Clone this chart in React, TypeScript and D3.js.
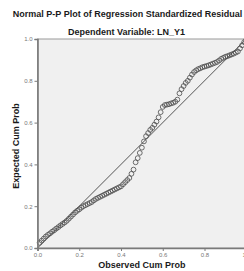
import React, { useEffect, useRef } from 'react';
import * as d3 from 'd3';

const title = 'Normal P-P Plot of Regression Standardized Residual';
const subtitle = 'Dependent Variable: LN_Y1';
const xTitle = 'Observed Cum Prob';
const yTitle = 'Expected Cum Prob';
const ticks = [0, 0.2, 0.4, 0.6, 0.8, 1.0];

const observed = [
  0.01, 0.02, 0.03, 0.04, 0.05, 0.06, 0.07, 0.08, 0.09, 0.10,
  0.11, 0.12, 0.13, 0.14, 0.15, 0.16, 0.17, 0.18, 0.19, 0.20,
  0.21, 0.22, 0.23, 0.24, 0.25, 0.26, 0.27, 0.28, 0.29, 0.30,
  0.31, 0.32, 0.33, 0.34, 0.35, 0.36, 0.37, 0.38, 0.39, 0.40,
  0.41, 0.42, 0.43, 0.44, 0.45, 0.46, 0.47, 0.48, 0.49, 0.50,
  0.51, 0.52, 0.53, 0.54, 0.55, 0.56, 0.57, 0.58, 0.59, 0.60,
  0.61, 0.62, 0.63, 0.64, 0.65, 0.66, 0.67, 0.68, 0.69, 0.70,
  0.71, 0.72, 0.73, 0.74, 0.75, 0.76, 0.77, 0.78, 0.79, 0.80,
  0.81, 0.82, 0.83, 0.84, 0.85, 0.86, 0.87, 0.88, 0.89, 0.90,
  0.91, 0.92, 0.93, 0.94, 0.95, 0.96, 0.97, 0.98, 0.99, 1.00
];

const expected = [
  0.025, 0.035, 0.045, 0.055, 0.063, 0.07, 0.078, 0.085, 0.093, 0.10,
  0.108, 0.115, 0.122, 0.13, 0.14, 0.15, 0.16, 0.17, 0.178, 0.185,
  0.193, 0.20, 0.205, 0.21, 0.215, 0.22, 0.228, 0.235, 0.24, 0.245,
  0.25, 0.255, 0.26, 0.265, 0.27, 0.275, 0.28, 0.285, 0.29, 0.295,
  0.305, 0.315, 0.325, 0.335, 0.355, 0.375, 0.41, 0.43, 0.455, 0.48,
  0.51, 0.535, 0.55, 0.565, 0.575, 0.59, 0.605, 0.625, 0.65, 0.675,
  0.684, 0.686, 0.688, 0.692, 0.695, 0.70, 0.71, 0.74, 0.76, 0.775,
  0.79, 0.80, 0.815, 0.83, 0.842, 0.85, 0.856, 0.86, 0.865, 0.868,
  0.871, 0.874, 0.878, 0.882, 0.886, 0.89, 0.897, 0.905, 0.91, 0.915,
  0.918, 0.922, 0.926, 0.93, 0.935, 0.94, 0.955, 0.97, 0.985, 0.995
];

function App() {
  const ref = useRef<SVGSVGElement>(null);

  useEffect(() => {
    const W = 244, H = 271;
    const left = 37.5, right = 246.25, top = 39, bottom = 248;
    const font = '"Liberation Sans", Arial, sans-serif';

    const svg = d3.select(ref.current)
      .attr('width', W)
      .attr('height', H)
      .style('position', 'absolute')
      .style('left', '0px')
      .style('top', '0px');
    svg.selectAll('*').remove();

    const x = d3.scaleLinear().domain([0, 1]).range([left, right]);
    const y = d3.scaleLinear().domain([0, 1]).range([bottom, top]);

    svg.append('rect').attr('width', W).attr('height', H).attr('fill', 'white');

    svg.append('rect')
      .attr('x', x(0)).attr('y', y(1))
      .attr('width', x(1) - x(0)).attr('height', y(0) - y(1))
      .attr('fill', '#f0f0f0')
      .attr('stroke', '#9a9a9a')
      .attr('stroke-width', 1);

    // reference diagonal
    svg.append('line')
      .attr('x1', x(0)).attr('y1', y(0))
      .attr('x2', x(1)).attr('y2', y(1))
      .attr('stroke', '#555')
      .attr('stroke-width', 1);

    const pts = observed.map((o, i) => ({ o, e: expected[i] }));
    svg.append('g')
      .selectAll('circle')
      .data(pts)
      .join('circle')
        .attr('cx', d => x(d.o))
        .attr('cy', d => y(d.e))
        .attr('r', 2.4)
        .attr('fill', 'none')
        .attr('stroke', '#4a4a4a')
        .attr('stroke-width', 0.8);

    const fmt = d3.format('.1f');
    const xAxis = d3.axisBottom(x).tickValues(ticks).tickFormat(d => fmt(d as number)).tickSize(3).tickPadding(2);
    const yAxis = d3.axisLeft(y).tickValues(ticks).tickFormat(d => fmt(d as number)).tickSize(3).tickPadding(2);

    const gx = svg.append('g').attr('transform', `translate(0,${y(0)})`).call(xAxis);
    const gy = svg.append('g').attr('transform', `translate(${x(0)},0)`).call(yAxis);
    [gx, gy].forEach(g => {
      g.select('.domain').attr('stroke', '#7a7a7a').attr('stroke-width', 1.6);
      g.selectAll('.tick line').attr('stroke', '#7a7a7a');
      g.selectAll('.tick text')
        .attr('fill', '#777')
        .style('font-family', font)
        .style('font-size', '6px');
    });

    const label = (t: string) => svg.append('text')
      .attr('text-anchor', 'middle')
      .style('font-family', font)
      .style('font-size', '9px')
      .style('font-weight', 'bold')
      .attr('fill', '#1a1a1a')
      .text(t);

    label(title).attr('x', 127.5).attr('y', 17);
    label(subtitle).attr('x', 126.5).attr('y', 35);
    label(xTitle).attr('x', (x(0) + x(1)) / 2).attr('y', 268);
    label(yTitle).attr('transform', `translate(18.5,146) rotate(-90)`);
  }, []);

  return (
    <div>
      <svg ref={ref}></svg>
    </div>
  );
}

export default App;
